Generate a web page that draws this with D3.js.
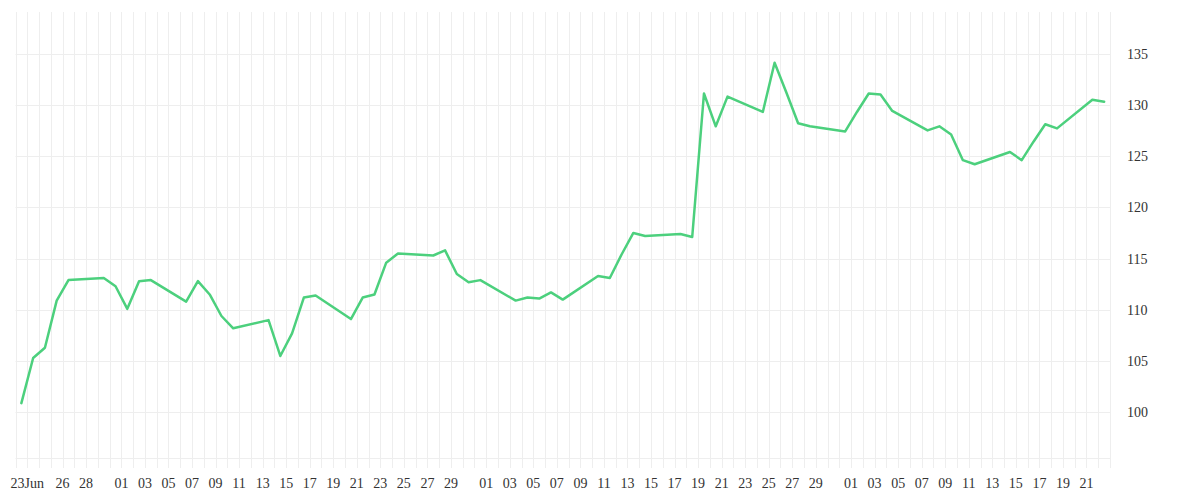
<!DOCTYPE html>
<html>
<head>
<meta charset="utf-8">
<script src="https://cdn.jsdelivr.net/npm/d3@7/dist/d3.min.js"></script>
<style>
  html, body { margin: 0; padding: 0; background: #ffffff; }
  svg { display: block; }
  text { font-family: "Liberation Serif", "Times New Roman", serif; font-size: 14px; fill: #333333; }
</style>
</head>
<body>
<svg id="chart" width="1200" height="500"></svg>
<script>
// ---- data ----
const dates = [
  "2025-06-23","2025-06-24","2025-06-25","2025-06-26","2025-06-27",
  "2025-06-30","2025-07-01","2025-07-02","2025-07-03","2025-07-04",
  "2025-07-07","2025-07-08","2025-07-09","2025-07-10","2025-07-11",
  "2025-07-14","2025-07-15","2025-07-16","2025-07-17","2025-07-18",
  "2025-07-21","2025-07-22","2025-07-23","2025-07-24","2025-07-25",
  "2025-07-28","2025-07-29","2025-07-30","2025-07-31","2025-08-01",
  "2025-08-04","2025-08-05","2025-08-06","2025-08-07","2025-08-08",
  "2025-08-11","2025-08-12","2025-08-13","2025-08-14","2025-08-15",
  "2025-08-18","2025-08-19","2025-08-20","2025-08-21","2025-08-22",
  "2025-08-25","2025-08-26","2025-08-27","2025-08-28","2025-08-29",
  "2025-09-01","2025-09-02","2025-09-03","2025-09-04","2025-09-05",
  "2025-09-08","2025-09-09","2025-09-10","2025-09-11","2025-09-12",
  "2025-09-15","2025-09-16","2025-09-17","2025-09-18","2025-09-19",
  "2025-09-22","2025-09-23"
];
const values = [
  100.9, 105.3, 106.3, 110.9, 112.9,
  113.1, 112.3, 110.1, 112.8, 112.9,
  110.8, 112.8, 111.5, 109.4, 108.2,
  109.0, 105.5, 107.7, 111.2, 111.4,
  109.1, 111.2, 111.5, 114.6, 115.5,
  115.3, 115.8, 113.5, 112.7, 112.9,
  110.9, 111.2, 111.1, 111.7, 111.0,
  113.3, 113.1, 115.4, 117.5, 117.2,
  117.4, 117.1, 131.1, 127.9, 130.8,
  129.3, 134.1, 131.2, 128.2, 127.9,
  127.4, 129.3, 131.1, 131.0, 129.4,
  127.5, 127.9, 127.1, 124.6, 124.2,
  125.4, 124.6, 126.4, 128.1, 127.7,
  130.5, 130.3
];
const yTicks = [100, 105, 110, 115, 120, 125, 130, 135];
const xTickDates = [
  "2025-06-23","2025-06-26","2025-06-28",
  "2025-07-01","2025-07-03","2025-07-05","2025-07-07","2025-07-09","2025-07-11","2025-07-13",
  "2025-07-15","2025-07-17","2025-07-19","2025-07-21","2025-07-23","2025-07-25","2025-07-27","2025-07-29",
  "2025-08-01","2025-08-03","2025-08-05","2025-08-07","2025-08-09","2025-08-11","2025-08-13",
  "2025-08-15","2025-08-17","2025-08-19","2025-08-21","2025-08-23","2025-08-25","2025-08-27","2025-08-29",
  "2025-09-01","2025-09-03","2025-09-05","2025-09-07","2025-09-09","2025-09-11","2025-09-13",
  "2025-09-15","2025-09-17","2025-09-19","2025-09-21"
];
const xDomain = ["2025-06-22", "2025-09-23"];
const yDomain = [95.55, 139.05];

// ---- layout ----
const plotLeft = 15.5, plotRight = 1110, plotTop = 12, plotBottom = 458;
const parse = d3.utcParse("%Y-%m-%d");
const svg = d3.select("#chart");

const x = d3.scaleUtc().domain(xDomain.map(parse)).range([plotLeft, plotRight]);
const y = d3.scaleLinear().domain(yDomain).range([plotBottom, plotTop]);

// vertical daily grid lines
const allDays = d3.utcDay.range(parse(xDomain[0]), d3.utcDay.offset(parse(xDomain[1]), 1));
svg.append("g")
  .selectAll("line").data(allDays).join("line")
  .attr("x1", d => Math.round(x(d)) + 0.5).attr("x2", d => Math.round(x(d)) + 0.5)
  .attr("y1", plotTop).attr("y2", plotBottom + 10)
  .attr("stroke", "#eeeeee").attr("stroke-width", 1);

// horizontal grid lines
svg.append("g")
  .selectAll("line").data(yTicks).join("line")
  .attr("x1", plotLeft).attr("x2", plotRight)
  .attr("y1", d => Math.round(y(d)) + 0.5).attr("y2", d => Math.round(y(d)) + 0.5)
  .attr("stroke", "#eeeeee").attr("stroke-width", 1);

// bottom line
svg.append("line")
  .attr("x1", plotLeft).attr("x2", plotRight)
  .attr("y1", plotBottom + 0.5).attr("y2", plotBottom + 0.5)
  .attr("stroke", "#eeeeee").attr("stroke-width", 1);

// y axis labels (right)
svg.append("g")
  .selectAll("text").data(yTicks).join("text")
  .attr("x", 1127)
  .attr("y", d => y(d) + 5)
  .attr("text-anchor", "start")
  .text(d => d);

// x axis labels
const fmtDay = d3.utcFormat("%d");
const fmtFirst = d3.utcFormat("%d%b");
svg.append("g")
  .selectAll("text").data(xTickDates.map(parse)).join("text")
  .attr("x", d => x(d))
  .attr("y", 488)
  .attr("text-anchor", "middle")
  .text((d, i) => i === 0 ? fmtFirst(d) : fmtDay(d));

// line (points sit half a day before the date gridline)
const pts = dates.map((d, i) => ({ t: d3.utcHour.offset(parse(d), -12), v: values[i] }));
const line = d3.line().x(d => x(d.t)).y(d => y(d.v));
svg.append("path")
  .datum(pts)
  .attr("d", line)
  .attr("fill", "none")
  .attr("stroke", "#4cd07d")
  .attr("stroke-width", 2.5)
  .attr("stroke-linejoin", "round")
  .attr("stroke-linecap", "round");
</script>
</body>
</html>
